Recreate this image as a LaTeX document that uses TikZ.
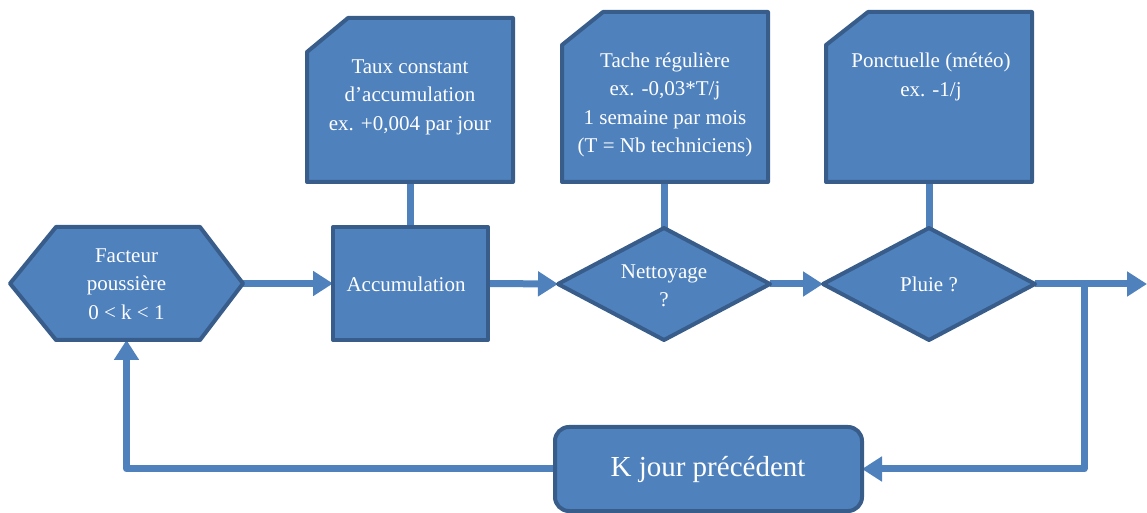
\documentclass[tikz,border=0pt]{standalone}
\usepackage{fontspec}
\setmainfont{Liberation Serif}
\usetikzlibrary{arrows.meta}
\definecolor{fillb}{HTML}{4F81BD}
\definecolor{edgeb}{HTML}{385D8A}
\begin{document}
\begin{tikzpicture}[x=0.5pt,y=-0.5pt,
 shapebox/.style={fill=fillb,draw=edgeb,line width=2pt,line join=round},
 txt/.style={text=white,font=\fontsize{10.5}{14.25}\selectfont,align=center,inner sep=0},
 bigtxt/.style={text=white,font=\fontsize{14.5}{16}\selectfont,align=center,inner sep=0},
 anchorbox/.style={inner sep=0,outer sep=0},
 link/.style={draw=fillb,line width=3.5pt,line join=round},
 flow/.style={link,-{Triangle[length=10pt,width=12pt]}}]
\useasboundingbox (0,0) rectangle (1147,513);
% invisible anchor nodes
\node[anchorbox,minimum width=116.5pt,minimum height=56.5pt] (fac) at (126.5,283.5) {};
\node[anchorbox,minimum width=77.5pt,minimum height=56.5pt] (acc) at (410.5,283.5) {};
\node[anchorbox,minimum width=103pt,minimum height=82pt] (taux) at (410.5,100) {};
\node[anchorbox,minimum width=103pt,minimum height=85pt] (tache) at (664,97) {};
\node[anchorbox,minimum width=106pt,minimum height=56pt] (nett) at (664,284) {};
\node[anchorbox,minimum width=103pt,minimum height=85pt] (ponct) at (929,97) {};
\node[anchorbox,minimum width=106pt,minimum height=56pt] (pluie) at (929,284) {};
\node[anchorbox,minimum width=153.5pt,minimum height=42pt] (kj) at (708.5,469) {};
\coordinate (out) at (1147,284);
\coordinate (junc) at (1084,284);
% connectors
\draw[link] (taux.south) -- (acc.north);
\draw[link] (tache.south) -- (nett.north);
\draw[link] (ponct.south) -- (pluie.north);
\draw[flow] (fac.east) -- (acc.west);
\draw[flow] (acc.east) -- (nett.west);
\draw[flow] (nett.east) -- (pluie.west);
\draw[flow] (pluie.east) -- (out);
\draw[flow] (junc) |- (kj.east);
\draw[flow] (kj.west) -| (fac.south);
% shapes
\draw[shapebox] (10,283.5) -- (56,227) -- (200,227) -- (243,283.5) -- (200,340) -- (56,340) -- cycle;
\draw[shapebox] (333,227) rectangle (488,340);
\draw[shapebox] (307,52) -- (348,18) -- (513,18) -- (513,182) -- (307,182) -- cycle;
\draw[shapebox] (562,45) -- (603,12) -- (768,12) -- (768,182) -- (562,182) -- cycle;
\draw[shapebox] (558,284) -- (664,228) -- (770,284) -- (664,340) -- cycle;
\draw[shapebox] (826,45) -- (868,12) -- (1032,12) -- (1032,182) -- (826,182) -- cycle;
\draw[shapebox] (823,284) -- (929,228) -- (1035,284) -- (929,340) -- cycle;
\draw[shapebox,rounded corners=7pt] (555,427) rectangle (862,511);
% texts
\node[txt] (facT) at (126.5,284) {Facteur\\poussière\\0 < k < 1};
\node[txt] (accT) at (406,284) {Accumulation};
\node[txt] (tauxT) at (410,97) {Taux constant\\d’accumulation\\ex. +0,004 par jour};
\node[txt] (tacheT) at (665,105) {Tache régulière\\ex. -0,03*T/j\\1 semaine par mois\\(T = Nb techniciens)};
\node[txt] (nettT) at (664,286) {Nettoyage\\?};
\node[txt] (ponctT) at (931,77) {Ponctuelle (météo)\\ex. -1/j};
\node[txt] (pluieT) at (929,284) {Pluie ?};
\node[bigtxt] (kjT) at (708,470) {K jour précédent};
\end{tikzpicture}
\end{document}
